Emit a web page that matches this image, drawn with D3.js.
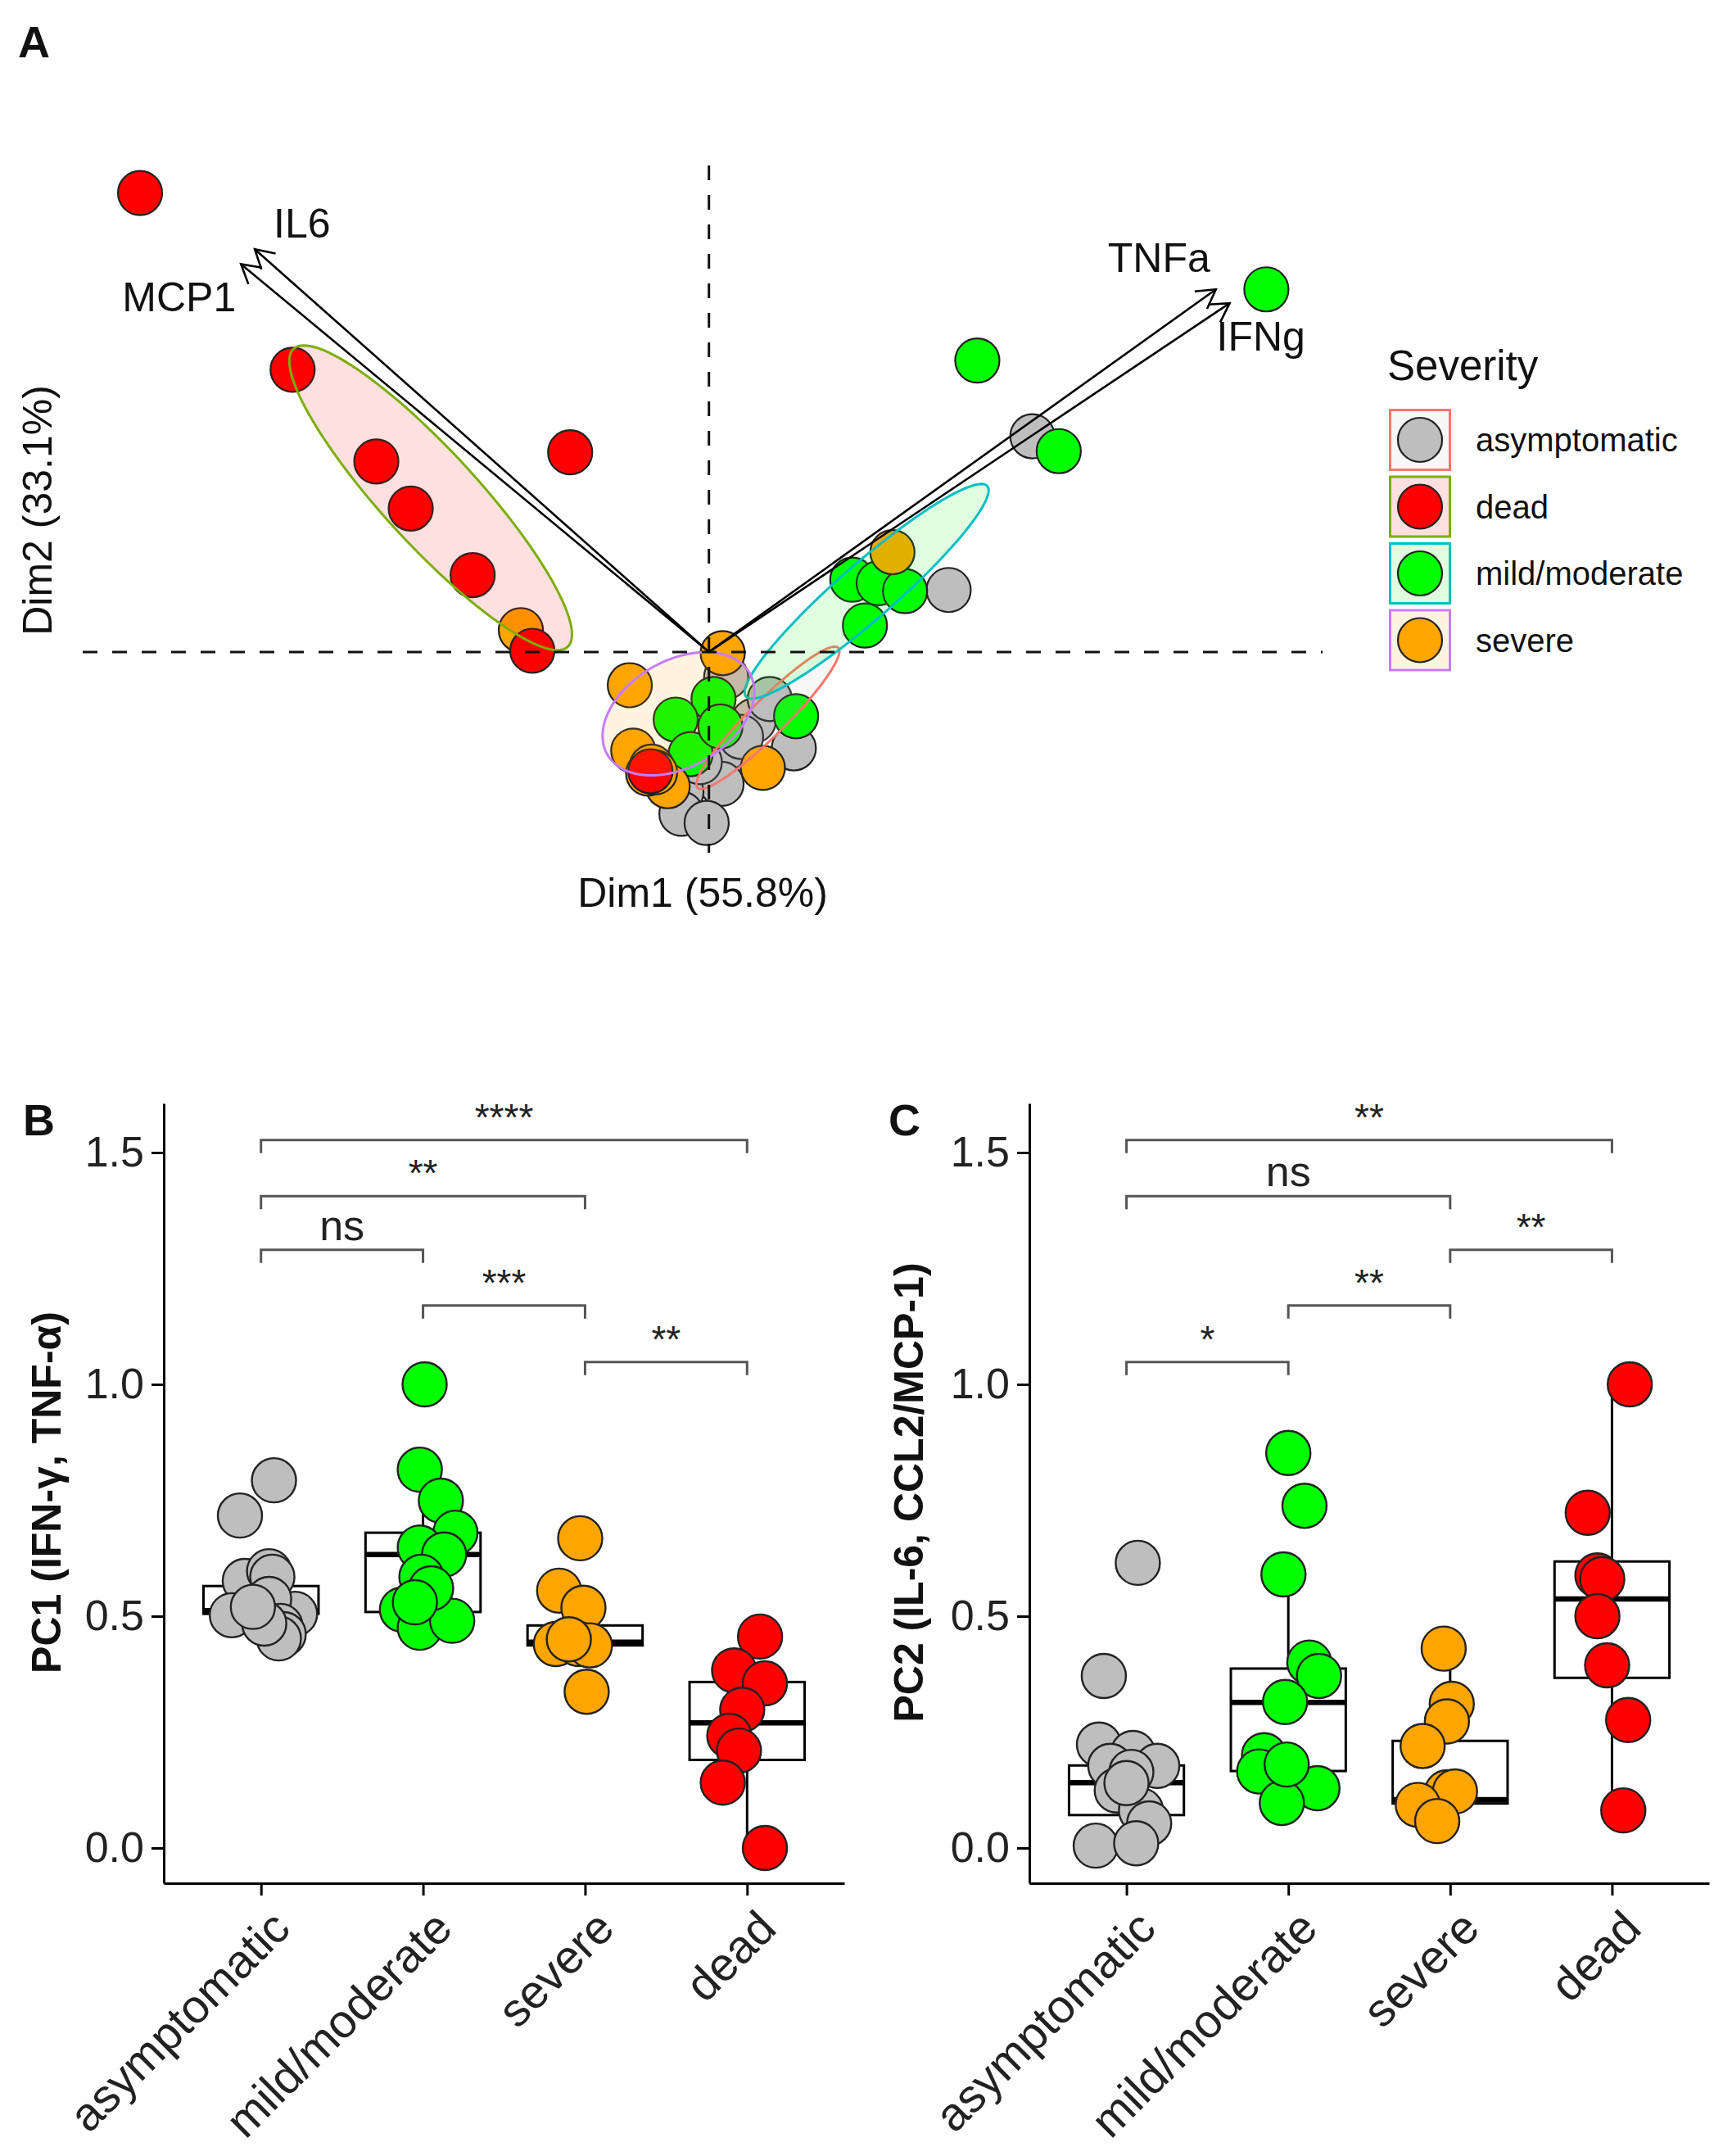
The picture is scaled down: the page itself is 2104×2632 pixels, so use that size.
<!DOCTYPE html>
<html>
<head>
<meta charset="utf-8">
<script src="https://cdn.jsdelivr.net/npm/d3@7"></script>
<style>
  body { margin: 0; background: #fff; }
  text { font-family: "Liberation Sans", Arial, Helvetica, sans-serif; }
</style>
</head>
<body>
<div id="chart"></div>
<script>
// ---------- data ----------
const legendGroups = ["asymptomatic", "dead", "mild/moderate", "severe"];
const boxGroups = ["asymptomatic", "mild/moderate", "severe", "dead"];

// panel A: individuals on Dim1 / Dim2 (some hidden under the central cluster)
const pcaAsym = [[2.82, 1.88], [2.09, 0.54], [0.15, -0.22], [0.39, -0.6], [0.53, -0.41], [0.74, -0.84],
  [0.15, -0.84], [0.11, -1.15], [-0.24, -1.22], [-0.24, -1.41], [-0.02, -1.49], [0.28, -0.74], [-0.08, -0.96]];
const pcaMild = [[4.86, 3.16], [2.34, 2.54], [3.05, 1.75], [1.25, 0.63], [1.48, 0.6], [1.71, 0.53],
  [1.36, 0.23], [0.04, -0.41], [-0.29, -0.59], [0.76, -0.56], [-0.16, -0.89], [0.1, -0.65]];
const pcaSevere = [[-1.64, 0.19], [0.12, -0.01], [-0.69, -0.29], [-0.66, -0.86], [-0.36, -1.17],
  [0.47, -1.01], [1.6, 0.87], [-0.5, -1.0], [-0.53, -1.06], [-0.47, -1.05]];
const pcaDead = [[-4.96, 4.0], [-3.63, 2.46], [-2.9, 1.66], [-2.6, 1.25], [-2.06, 0.67], [-1.21, 1.74],
  [-1.54, 0.01], [-0.51, -1.04]];

// variable arrows
const varNames = ["IL6", "MCP1", "TNFa", "IFNg"];
const varDim1 = [-3.96, -4.08, 4.42, 4.54];
const varDim2 = [3.51, 3.38, 3.16, 3.04];

// panel B: PC1, [value, jitter as fraction of category step]
const pc1Asym = [[0.793, 0.08], [0.717, -0.13], [0.576, -0.1], [0.597, 0.05], [0.585, 0.07], [0.502, -0.18],
  [0.505, 0.21], [0.537, 0.05], [0.479, 0.12], [0.461, 0.14], [0.452, 0.11], [0.484, 0.02], [0.52, -0.05]];
const pc1Mild = [[1.0, 0.01], [0.816, -0.02], [0.749, 0.11], [0.68, 0.2], [0.648, -0.02], [0.633, 0.13],
  [0.585, -0.01], [0.514, -0.13], [0.475, -0.02], [0.49, 0.18], [0.56, 0.05], [0.53, -0.05]];
const pc1Severe = [[0.668, -0.03], [0.555, -0.16], [0.518, -0.01], [0.44, -0.18], [0.44, -0.04],
  [0.437, 0.03], [0.337, 0.01], [0.45, -0.1]];
const pc1Dead = [[0.456, 0.08], [0.383, -0.08], [0.355, 0.11], [0.298, -0.03], [0.242, -0.11],
  [0.21, -0.05], [0.141, -0.15], [0.0, 0.11]];
// box summaries in boxGroups order
const pc1Q1 = [0.505, 0.509, 0.437, 0.19];
const pc1Med = [0.512, 0.633, 0.444, 0.27];
const pc1Q3 = [0.565, 0.68, 0.48, 0.358];
const pc1Lo = [0.452, 0.475, 0.437, 0.0];
const pc1Hi = [0.597, 0.816, 0.518, 0.456];
const pc1Tests = [["asymptomatic", "dead", 1.527, "****"], ["asymptomatic", "severe", 1.406, "**"],
  ["asymptomatic", "mild/moderate", 1.29, "ns"], ["mild/moderate", "severe", 1.17, "***"],
  ["severe", "dead", 1.048, "**"]];

// panel C: PC2
const pc2Asym = [[0.615, 0.07], [0.371, -0.14], [0.223, -0.17], [0.205, 0.04], [0.177, -0.1], [0.177, 0.19],
  [0.164, 0.03], [0.124, -0.06], [0.081, 0.09], [0.053, 0.14], [0.005, -0.19], [0.01, 0.06], [0.14, 0.0]];
const pc2Mild = [[0.852, 0.0], [0.738, 0.1], [0.59, -0.03], [0.4, 0.13], [0.371, 0.19], [0.315, -0.02],
  [0.2, -0.15], [0.164, -0.04], [0.165, -0.18], [0.129, 0.18], [0.097, -0.04], [0.18, -0.01]];
const pc2Severe = [[0.43, -0.04], [0.311, 0.01], [0.273, -0.02], [0.22, -0.17], [0.12, -0.02],
  [0.122, 0.03], [0.093, -0.2], [0.058, -0.08]];
const pc2Dead = [[1.0, 0.11], [0.723, -0.15], [0.588, -0.09], [0.58, -0.06], [0.5, -0.09],
  [0.394, -0.03], [0.276, 0.1], [0.081, 0.07]];
const pc2Q1 = [0.071, 0.166, 0.096, 0.367];
const pc2Med = [0.141, 0.314, 0.104, 0.537];
const pc2Q3 = [0.178, 0.387, 0.231, 0.618];
const pc2Lo = [0.005, 0.097, 0.058, 0.081];
const pc2Hi = [0.223, 0.59, 0.43, 1.0];
const pc2Tests = [["asymptomatic", "dead", 1.527, "**"], ["asymptomatic", "severe", 1.406, "ns"],
  ["severe", "dead", 1.29, "**"], ["mild/moderate", "severe", 1.17, "**"],
  ["asymptomatic", "mild/moderate", 1.048, "*"]];

const yTicks = [0, 0.5, 1.0, 1.5];

// ---------- styles ----------
const fillColor = { "asymptomatic": "#BEBEBE", "dead": "#FF0000", "mild/moderate": "#00FF00", "severe": "#FFA500" };
const hueColor = { "asymptomatic": "#F8766D", "dead": "#7CAE00", "mild/moderate": "#00BFC4", "severe": "#C77CFF" };
const R = 27;

const W = 2104, H = 2632;
const svg = d3.select("#chart").append("svg").attr("width", W).attr("height", H);

// ---------- panel A ----------
const xA = d3.scaleLinear().domain([-5.46, 5.35]).range([101, 1615]);
const yA = d3.scaleLinear().domain([-1.75, 4.24]).range([1041, 202]);
const gA = svg.append("g");

const pcaGroups = [
  ["asymptomatic", pcaAsym], ["mild/moderate", pcaMild], ["severe", pcaSevere], ["dead", pcaDead]
];

pcaGroups.forEach(([name, pts]) => {
  gA.selectAll(null).data(pts).enter().append("circle")
    .attr("cx", d => xA(d[0])).attr("cy", d => yA(d[1])).attr("r", R)
    .attr("fill", fillColor[name]).attr("stroke", "#222").attr("stroke-width", 2.2);
});

// 95% confidence ellipse of the group mean
function confEllipse(pts) {
  const n = pts.length;
  const mx = d3.mean(pts, d => d[0]), my = d3.mean(pts, d => d[1]);
  let sxx = 0, syy = 0, sxy = 0;
  pts.forEach(([x, y]) => { sxx += (x - mx) ** 2; syy += (y - my) ** 2; sxy += (x - mx) * (y - my); });
  const f = (n - 1) * n;
  sxx /= f; syy /= f; sxy /= f;
  const tr = sxx + syy, det = sxx * syy - sxy * sxy;
  const disc = Math.sqrt(Math.max(tr * tr / 4 - det, 0));
  const l1 = tr / 2 + disc, l2 = Math.max(tr / 2 - disc, 0);
  const theta = Math.atan2(l1 - sxx, sxy);
  const k = Math.sqrt(5.991);
  return d3.range(0, 120).map(i => {
    const t = i / 120 * 2 * Math.PI;
    const a = k * Math.sqrt(l1) * Math.cos(t), b = k * Math.sqrt(l2) * Math.sin(t);
    return [mx + a * Math.cos(theta) - b * Math.sin(theta), my + a * Math.sin(theta) + b * Math.cos(theta)];
  });
}

const ellLine = d3.line().x(d => xA(d[0])).y(d => yA(d[1])).curve(d3.curveLinearClosed);
pcaGroups.forEach(([name, pts]) => {
  gA.append("path").attr("d", ellLine(confEllipse(pts)))
    .attr("fill", fillColor[name]).attr("fill-opacity", 0.12)
    .attr("stroke", hueColor[name]).attr("stroke-width", 3);
});

// reference lines
gA.append("line").attr("x1", xA.range()[0]).attr("x2", xA.range()[1])
  .attr("y1", yA(0)).attr("y2", yA(0))
  .attr("stroke", "#111").attr("stroke-width", 3).attr("stroke-dasharray", "18,18");
gA.append("line").attr("x1", xA(0)).attr("x2", xA(0))
  .attr("y1", yA.range()[1]).attr("y2", yA.range()[0])
  .attr("stroke", "#111").attr("stroke-width", 3).attr("stroke-dasharray", "18,18");

// variable arrows
const labelOffset = { IL6: [23, -14, "start"], MCP1: [-6, 58, "end"], TNFa: [-7, -21, "end"], IFNg: [-16, 58, "start"] };
varNames.forEach((v, i) => {
  const x0 = xA(0), y0 = yA(0), x1 = xA(varDim1[i]), y1 = yA(varDim2[i]);
  const ang = Math.atan2(y1 - y0, x1 - x0);
  const hl = 26, ha = Math.PI / 6;
  gA.append("line").attr("x1", x0).attr("y1", y0).attr("x2", x1).attr("y2", y1)
    .attr("stroke", "#000").attr("stroke-width", 2.6);
  gA.append("path")
    .attr("d", `M${x1 - hl * Math.cos(ang - ha)},${y1 - hl * Math.sin(ang - ha)}L${x1},${y1}L${x1 - hl * Math.cos(ang + ha)},${y1 - hl * Math.sin(ang + ha)}`)
    .attr("fill", "none").attr("stroke", "#000").attr("stroke-width", 2.6);
  const o = labelOffset[v];
  gA.append("text").attr("x", x1 + o[0]).attr("y", y1 + o[1]).attr("text-anchor", o[2])
    .attr("font-size", 50).attr("fill", "#111").text(v);
});

gA.append("text").attr("x", 858).attr("y", 1107).attr("text-anchor", "middle")
  .attr("font-size", 50).attr("fill", "#111").text("Dim1 (55.8%)");
gA.append("text").attr("transform", "translate(63,623) rotate(-90)").attr("text-anchor", "middle")
  .attr("font-size", 50).attr("fill", "#111").text("Dim2 (33.1%)");

// legend
const lg = svg.append("g");
lg.append("text").attr("x", 1694).attr("y", 464).attr("font-size", 51).attr("fill", "#111").text("Severity");
legendGroups.forEach((name, i) => {
  const cy = 537 + i * 81.5;
  lg.append("rect").attr("x", 1697.5).attr("y", cy - 36.5).attr("width", 73).attr("height", 73)
    .attr("fill", fillColor[name]).attr("fill-opacity", 0.12)
    .attr("stroke", hueColor[name]).attr("stroke-width", 3);
  lg.append("circle").attr("cx", 1734).attr("cy", cy).attr("r", R)
    .attr("fill", fillColor[name]).attr("stroke", "#222").attr("stroke-width", 2.2);
  lg.append("text").attr("x", 1802).attr("y", cy).attr("dy", "0.36em")
    .attr("font-size", 40).attr("fill", "#111").text(name);
});

// ---------- panels B and C ----------
function boxPanel(opt) {
  const g = svg.append("g");
  const y = d3.scaleLinear().domain([-0.076, 1.606]).range([2299, 1347]);
  const x = d3.scalePoint().domain(boxGroups).range([opt.x0, opt.x1]).padding(0.6);
  const step = x.step();
  const bw = step * 0.71;

  // boxes
  boxGroups.forEach((name, i) => {
    const cx = x(name);
    g.append("line").attr("x1", cx).attr("x2", cx).attr("y1", y(opt.hi[i])).attr("y2", y(opt.q3[i]))
      .attr("stroke", "#000").attr("stroke-width", 3);
    g.append("line").attr("x1", cx).attr("x2", cx).attr("y1", y(opt.q1[i])).attr("y2", y(opt.lo[i]))
      .attr("stroke", "#000").attr("stroke-width", 3);
    g.append("rect").attr("x", cx - bw / 2).attr("width", bw)
      .attr("y", y(opt.q3[i])).attr("height", y(opt.q1[i]) - y(opt.q3[i]))
      .attr("fill", "#fff").attr("stroke", "#000").attr("stroke-width", 3);
    g.append("line").attr("x1", cx - bw / 2).attr("x2", cx + bw / 2)
      .attr("y1", y(opt.med[i])).attr("y2", y(opt.med[i]))
      .attr("stroke", "#000").attr("stroke-width", 6.5);
  });

  // points
  opt.points.forEach(([name, pts]) => {
    g.selectAll(null).data(pts).enter().append("circle")
      .attr("cx", d => x(name) + d[1] * step).attr("cy", d => y(d[0])).attr("r", R)
      .attr("fill", fillColor[name]).attr("stroke", "#222").attr("stroke-width", 2.4);
  });

  // axes
  const ax = g.append("g").attr("transform", `translate(${opt.x0},0)`)
    .call(d3.axisLeft(y).tickValues(yTicks).tickFormat(d3.format(".1f")).tickSize(15).tickSizeOuter(0).tickPadding(9));
  ax.select(".domain").attr("stroke", "#000").attr("stroke-width", 3);
  ax.selectAll(".tick line").attr("stroke", "#000").attr("stroke-width", 3);
  ax.selectAll(".tick text").attr("font-size", 52).attr("fill", "#222")
    .attr("font-family", '"Liberation Sans", Arial, sans-serif');

  const bx = g.append("g").attr("transform", `translate(0,${y.range()[0]})`)
    .call(d3.axisBottom(x).tickSize(15).tickSizeOuter(0));
  bx.select(".domain").attr("stroke", "#000").attr("stroke-width", 3);
  bx.selectAll(".tick line").attr("stroke", "#000").attr("stroke-width", 3);
  bx.selectAll(".tick text")
    .attr("font-size", 57).attr("fill", "#222")
    .attr("font-family", '"Liberation Sans", Arial, sans-serif')
    .attr("text-anchor", "end").attr("dy", 0).attr("y", 0)
    .attr("transform", "translate(38,58) rotate(-45)");

  // significance brackets
  opt.tests.forEach(([a, b, v, lab]) => {
    const xa = x(a), xb = x(b), yy = y(v), tk = 16;
    g.append("path").attr("d", `M${xa},${yy + tk}L${xa},${yy}L${xb},${yy}L${xb},${yy + tk}`)
      .attr("fill", "none").attr("stroke", "#555").attr("stroke-width", 3);
    g.append("text").attr("x", (xa + xb) / 2).attr("y", yy - 12).attr("text-anchor", "middle")
      .attr("font-size", lab === "ns" ? 52 : 46).attr("fill", "#222").text(lab);
  });

  g.append("text").attr("transform", `translate(${opt.titleX},1822) rotate(-90)`)
    .attr("text-anchor", "middle").attr("font-size", 50).attr("font-weight", "bold")
    .attr("fill", "#111").text(opt.title);
  g.append("text").attr("x", opt.tagX).attr("y", 1386).attr("font-size", 54)
    .attr("font-weight", "bold").attr("fill", "#111").text(opt.tag);
}

boxPanel({
  x0: 200, x1: 1031, title: "PC1 (IFN-γ, TNF-α)", titleX: 74, tag: "B", tagX: 28,
  points: [["asymptomatic", pc1Asym], ["mild/moderate", pc1Mild], ["severe", pc1Severe], ["dead", pc1Dead]],
  q1: pc1Q1, med: pc1Med, q3: pc1Q3, lo: pc1Lo, hi: pc1Hi, tests: pc1Tests
});
boxPanel({
  x0: 1257, x1: 2087, title: "PC2 (IL-6, CCL2/MCP-1)", titleX: 1127, tag: "C", tagX: 1085,
  points: [["asymptomatic", pc2Asym], ["mild/moderate", pc2Mild], ["severe", pc2Severe], ["dead", pc2Dead]],
  q1: pc2Q1, med: pc2Med, q3: pc2Q3, lo: pc2Lo, hi: pc2Hi, tests: pc2Tests
});

svg.append("text").attr("x", 22).attr("y", 70).attr("font-size", 54).attr("font-weight", "bold")
  .attr("fill", "#111").text("A");
</script>
</body>
</html>
